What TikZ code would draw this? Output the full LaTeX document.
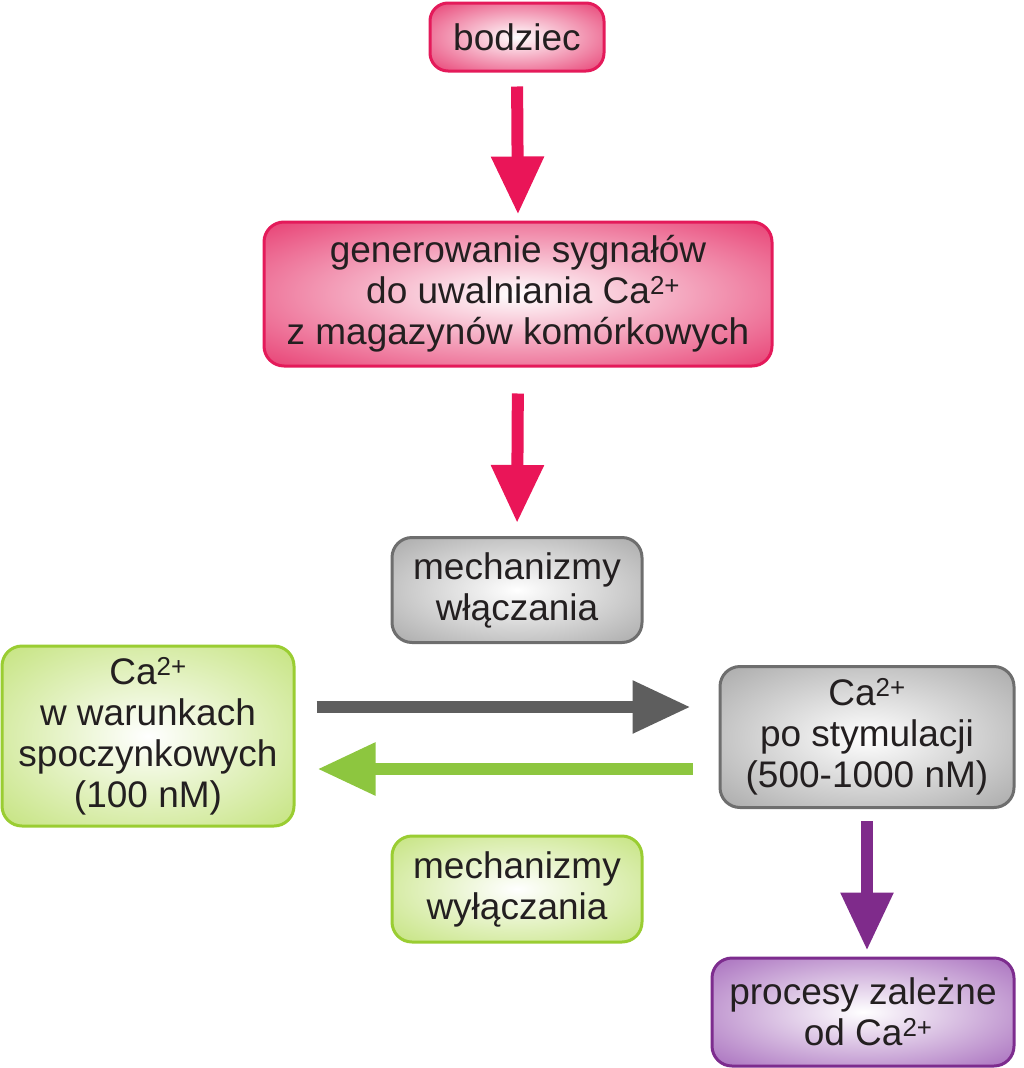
\documentclass[tikz,border=0pt]{standalone}
\usepackage{fontspec}
\setmainfont{Liberation Sans}
\usetikzlibrary{arrows.meta,calc}
\definecolor{redbd}{HTML}{E41A5A}
\definecolor{redfl}{HTML}{E6336A}
\definecolor{redar}{HTML}{EA1558}
\definecolor{graybd}{HTML}{6E6E6E}
\definecolor{grayfl}{HTML}{A0A0A0}
\definecolor{grayar}{HTML}{5E5E5E}
\definecolor{greenbd}{HTML}{9ACD32}
\definecolor{greenfl}{HTML}{BEE070}
\definecolor{greenar}{HTML}{8DC63F}
\definecolor{purbd}{HTML}{7D2C8E}
\definecolor{purfl}{HTML}{9E5EB6}
\definecolor{purar}{HTML}{7F2B8B}
\definecolor{txt}{HTML}{231F20}
\pgfdeclareradialshading{redsh}{\pgfpoint{0bp}{0bp}}{color(0bp)=(white); color(38bp)=(redfl); color(80bp)=(redfl)}
\pgfdeclareradialshading{graysh}{\pgfpoint{0bp}{0bp}}{color(0bp)=(white); color(40bp)=(grayfl); color(80bp)=(grayfl)}
\pgfdeclareradialshading{greensh}{\pgfpoint{0bp}{0bp}}{color(0bp)=(white); color(40bp)=(greenfl); color(80bp)=(greenfl)}
\pgfdeclareradialshading{pursh}{\pgfpoint{0bp}{0bp}}{color(0bp)=(white); color(40bp)=(purfl); color(80bp)=(purfl)}
\newcommand{\sq}{\textsuperscript{2+}}
\tikzset{
  box/.style={rounded corners=20pt, line width=3pt, inner sep=0pt, align=center,
    text=txt, font=\fontsize{37}{41}\selectfont},
  redbox/.style={box, draw=redbd, shading=redsh},
  graybox/.style={box, draw=graybd, shading=graysh},
  greenbox/.style={box, draw=greenbd, shading=greensh},
  purbox/.style={box, draw=purbd, shading=pursh},
  bigarrow/.style={line width=12pt, -{Triangle[width=50pt,length=58pt]}},
  redarrow/.style={bigarrow, draw=redar},
  grayarrow/.style={bigarrow, draw=grayar},
  greenarrow/.style={bigarrow, draw=greenar},
  purarrow/.style={bigarrow, draw=purar}
}
\begin{document}
\begin{tikzpicture}[x=1pt,y=-1pt]
\useasboundingbox (0,0) rectangle (1024,1068);
\node[redbox, minimum width=174pt, minimum height=68pt, rounded corners=18pt] (bod) at (517,37) {bodziec};
\node[redbox, minimum width=508pt, minimum height=144pt] (gen) at (518,294)
  {generowanie sygnałów\\ \ do uwalniania Ca\sq\\z magazynów komórkowych};
\node[graybox, minimum width=250pt, minimum height=105pt] (won) at (517,590) {mechanizmy\\włączania};
\node[greenbox, minimum width=292pt, minimum height=180pt] (rest) at (148,736)
  {Ca\sq\\w warunkach\\spoczynkowych\\(100 nM)};
\node[graybox, minimum width=294pt, minimum height=141pt] (stim) at (867,737)
  {Ca\sq\\po stymulacji\\(500-1000 nM)};
\node[greenbox, minimum width=250pt, minimum height=106pt] (woff) at (517,889) {mechanizmy\\wyłączania};
\node[purbox, minimum width=302pt, minimum height=108pt] (proc) at (863,1012)
  {procesy zależne\\ \ od Ca\sq};
\draw[redarrow, shorten <=14pt, shorten >=6pt] (bod.south) -- (gen.north);
\draw[redarrow, shorten <=26pt, shorten >=13pt] (gen.south) -- (won.north);
\draw[grayarrow, shorten <=21pt, shorten >=28pt] ([yshift=29pt]rest.east) -- ([yshift=29pt]rest.east -| stim.west);
\draw[greenarrow, shorten <=26pt, shorten >=22pt] ([yshift=-32pt]stim.west) -- ([yshift=-32pt]stim.west -| rest.east);
\draw[purarrow, shorten <=12pt, shorten >=6pt] (stim.south) -- (stim.south |- proc.north);
\end{tikzpicture}
\end{document}
